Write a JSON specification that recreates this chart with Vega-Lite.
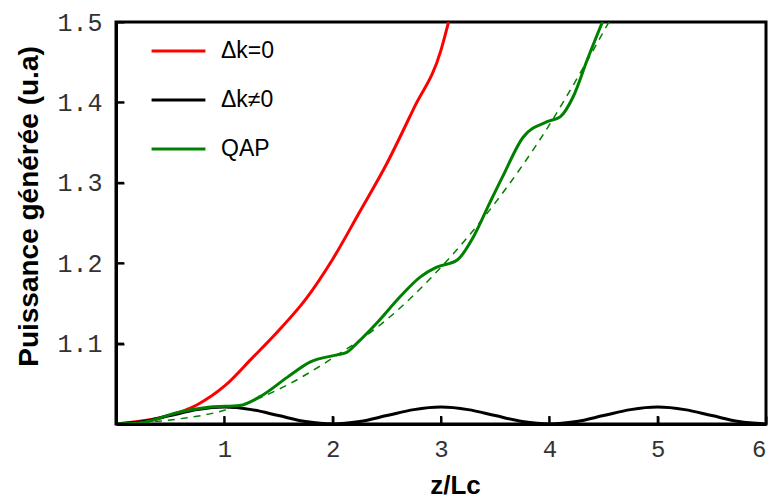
{
  "$schema": "https://vega.github.io/schema/vega-lite/v6.json",
  "autosize": "none",
  "width": 650,
  "height": 402,
  "padding": {"left": 116, "top": 22, "right": 5, "bottom": 74},
  "background": "white",
  "config": {
    "view": {"stroke": "black", "strokeWidth": 3},
    "axis": {"grid": false, "domainColor": "black", "domainWidth": 3, "tickColor": "black", "tickWidth": 2, "labelColor": "#333"}
  },
  "datasets": {
    "curves": [
      {"series": "Δk=0", "z": 0, "P": 1.0},
      {"series": "Δk=0", "z": 0.25, "P": 1.004},
      {"series": "Δk=0", "z": 0.5, "P": 1.011},
      {"series": "Δk=0", "z": 0.75, "P": 1.024},
      {"series": "Δk=0", "z": 1.0, "P": 1.047},
      {"series": "Δk=0", "z": 1.25, "P": 1.081},
      {"series": "Δk=0", "z": 1.5, "P": 1.116},
      {"series": "Δk=0", "z": 1.75, "P": 1.155},
      {"series": "Δk=0", "z": 2.0, "P": 1.205},
      {"series": "Δk=0", "z": 2.25, "P": 1.264},
      {"series": "Δk=0", "z": 2.5, "P": 1.324},
      {"series": "Δk=0", "z": 2.75, "P": 1.393},
      {"series": "Δk=0", "z": 3.0, "P": 1.465},
      {"series": "Δk=0", "z": 3.07, "P": 1.5},
      {"series": "Δk≠0", "z": 0, "P": 1.0},
      {"series": "Δk≠0", "z": 0.25, "P": 1.0031},
      {"series": "Δk≠0", "z": 0.5, "P": 1.0105},
      {"series": "Δk≠0", "z": 0.75, "P": 1.0179},
      {"series": "Δk≠0", "z": 1.0, "P": 1.021},
      {"series": "Δk≠0", "z": 1.25, "P": 1.0179},
      {"series": "Δk≠0", "z": 1.5, "P": 1.0105},
      {"series": "Δk≠0", "z": 1.75, "P": 1.0031},
      {"series": "Δk≠0", "z": 2.0, "P": 1.0},
      {"series": "Δk≠0", "z": 2.25, "P": 1.0031},
      {"series": "Δk≠0", "z": 2.5, "P": 1.0105},
      {"series": "Δk≠0", "z": 2.75, "P": 1.0179},
      {"series": "Δk≠0", "z": 3.0, "P": 1.021},
      {"series": "Δk≠0", "z": 3.25, "P": 1.0179},
      {"series": "Δk≠0", "z": 3.5, "P": 1.0105},
      {"series": "Δk≠0", "z": 3.75, "P": 1.0031},
      {"series": "Δk≠0", "z": 4.0, "P": 1.0},
      {"series": "Δk≠0", "z": 4.25, "P": 1.0031},
      {"series": "Δk≠0", "z": 4.5, "P": 1.0105},
      {"series": "Δk≠0", "z": 4.75, "P": 1.0179},
      {"series": "Δk≠0", "z": 5.0, "P": 1.021},
      {"series": "Δk≠0", "z": 5.25, "P": 1.0179},
      {"series": "Δk≠0", "z": 5.5, "P": 1.0105},
      {"series": "Δk≠0", "z": 5.75, "P": 1.0031},
      {"series": "Δk≠0", "z": 6.0, "P": 1.0},
      {"series": "QAP", "z": 0, "P": 1.0},
      {"series": "QAP", "z": 0.25, "P": 1.002},
      {"series": "QAP", "z": 0.56, "P": 1.014},
      {"series": "QAP", "z": 0.87, "P": 1.021},
      {"series": "QAP", "z": 1.14, "P": 1.023},
      {"series": "QAP", "z": 1.33, "P": 1.034},
      {"series": "QAP", "z": 1.58, "P": 1.058},
      {"series": "QAP", "z": 1.79, "P": 1.077},
      {"series": "QAP", "z": 2.04, "P": 1.086},
      {"series": "QAP", "z": 2.13, "P": 1.089},
      {"series": "QAP", "z": 2.22, "P": 1.1},
      {"series": "QAP", "z": 2.41, "P": 1.126},
      {"series": "QAP", "z": 2.62, "P": 1.158},
      {"series": "QAP", "z": 2.81, "P": 1.183},
      {"series": "QAP", "z": 2.96, "P": 1.195},
      {"series": "QAP", "z": 3.15, "P": 1.204},
      {"series": "QAP", "z": 3.3, "P": 1.233},
      {"series": "QAP", "z": 3.45, "P": 1.275},
      {"series": "QAP", "z": 3.57, "P": 1.308},
      {"series": "QAP", "z": 3.76, "P": 1.357},
      {"series": "QAP", "z": 3.98, "P": 1.376},
      {"series": "QAP", "z": 4.1, "P": 1.382},
      {"series": "QAP", "z": 4.22, "P": 1.407},
      {"series": "QAP", "z": 4.35, "P": 1.453},
      {"series": "QAP", "z": 4.49, "P": 1.5}
    ],
    "trend": [
      {"z": 0, "P": 1.0},
      {"z": 0.5, "P": 1.005},
      {"z": 1.0, "P": 1.017},
      {"z": 1.5, "P": 1.043},
      {"z": 2.0, "P": 1.082},
      {"z": 2.5, "P": 1.13},
      {"z": 3.0, "P": 1.195},
      {"z": 3.5, "P": 1.275},
      {"z": 4.0, "P": 1.372},
      {"z": 4.3, "P": 1.44},
      {"z": 4.55, "P": 1.5}
    ],
    "xticks": [{"z": 1}, {"z": 2}, {"z": 3}, {"z": 4}, {"z": 5}, {"z": 6}],
    "yticks": [{"P": 1.1}, {"P": 1.2}, {"P": 1.3}, {"P": 1.4}]
  },
  "layer": [
    {
      "data": {"name": "trend"},
      "mark": {"type": "line", "color": "#008000", "strokeWidth": 1.5, "strokeDash": [7, 6], "interpolate": "monotone", "clip": true},
      "encoding": {
        "x": {"field": "z", "type": "quantitative", "scale": {"domain": [0, 6], "nice": false},
          "axis": {"title": "z/Lc", "values": [1, 2, 3, 4, 5, 6], "format": "d", "tickSize": -8, "zindex": 2, "labelPadding": 21, "labelFont": "Liberation Mono", "labelFontSize": 24, "titleFont": "Liberation Sans", "titleFontSize": 26, "titleFontWeight": "bold", "titleColor": "black", "titleX": 339, "titleY": 74, "titleBaseline": "bottom"}},
        "y": {"field": "P", "type": "quantitative", "scale": {"domain": [1, 1.5], "nice": false, "zero": false},
          "axis": {"title": "Puissance générée (u.a)", "values": [1.1, 1.2, 1.3, 1.4, 1.5], "format": ".1f", "tickSize": -8, "zindex": 2, "labelPadding": 22, "labelFont": "Liberation Mono", "labelFontSize": 25, "titleFont": "Liberation Sans", "titleFontSize": 28, "titleFontWeight": "bold", "titleColor": "black", "titleX": -73, "titleY": 184, "titleBaseline": "bottom", "titleAngle": -90}}
      }
    },
    {
      "data": {"name": "curves"},
      "mark": {"type": "line", "strokeWidth": 3, "interpolate": "monotone", "clip": true},
      "encoding": {
        "x": {"field": "z", "type": "quantitative", "scale": {"domain": [0, 6], "nice": false},
          "axis": {"title": "z/Lc", "values": [1, 2, 3, 4, 5, 6], "format": "d", "tickSize": -8, "zindex": 2, "labelPadding": 21, "labelFont": "Liberation Mono", "labelFontSize": 24, "titleFont": "Liberation Sans", "titleFontSize": 26, "titleFontWeight": "bold", "titleColor": "black", "titleX": 339, "titleY": 74, "titleBaseline": "bottom"}},
        "y": {"field": "P", "type": "quantitative", "scale": {"domain": [1, 1.5], "nice": false, "zero": false},
          "axis": {"title": "Puissance générée (u.a)", "values": [1.1, 1.2, 1.3, 1.4, 1.5], "format": ".1f", "tickSize": -8, "zindex": 2, "labelPadding": 22, "labelFont": "Liberation Mono", "labelFontSize": 25, "titleFont": "Liberation Sans", "titleFontSize": 28, "titleFontWeight": "bold", "titleColor": "black", "titleX": -73, "titleY": 184, "titleBaseline": "bottom", "titleAngle": -90}},
        "color": {
          "field": "series", "type": "nominal",
          "scale": {"domain": ["Δk=0", "Δk≠0", "QAP"], "range": ["#ff0000", "#000000", "#008000"]},
          "legend": {"title": null, "orient": "none", "legendX": 34, "legendY": 19, "symbolType": "stroke", "symbolSize": 2900, "symbolStrokeWidth": 3, "clipHeight": 20, "labelFont": "Liberation Sans", "labelFontSize": 23, "labelColor": "black", "rowPadding": 26, "labelOffset": 14}
        }
      }
    },
    {
      "data": {"name": "xticks"},
      "mark": {"type": "tick", "orient": "vertical", "color": "black", "size": 8, "thickness": 2, "yOffset": -4, "opacity": 1},
      "encoding": {
        "x": {"field": "z", "type": "quantitative", "scale": {"domain": [0, 6], "nice": false},
          "axis": {"title": "z/Lc", "values": [1, 2, 3, 4, 5, 6], "format": "d", "tickSize": -8, "zindex": 2, "labelPadding": 21, "labelFont": "Liberation Mono", "labelFontSize": 24, "titleFont": "Liberation Sans", "titleFontSize": 26, "titleFontWeight": "bold", "titleColor": "black", "titleX": 339, "titleY": 74, "titleBaseline": "bottom"}},
        "y": {"datum": 1, "type": "quantitative", "scale": {"domain": [1, 1.5], "nice": false, "zero": false},
          "axis": {"title": "Puissance générée (u.a)", "values": [1.1, 1.2, 1.3, 1.4, 1.5], "format": ".1f", "tickSize": -8, "zindex": 2, "labelPadding": 22, "labelFont": "Liberation Mono", "labelFontSize": 25, "titleFont": "Liberation Sans", "titleFontSize": 28, "titleFontWeight": "bold", "titleColor": "black", "titleX": -73, "titleY": 184, "titleBaseline": "bottom", "titleAngle": -90}}
      }
    },
    {
      "data": {"name": "yticks"},
      "mark": {"type": "tick", "orient": "horizontal", "color": "black", "size": 8, "thickness": 2, "xOffset": 4, "opacity": 1},
      "encoding": {
        "x": {"datum": 0, "type": "quantitative", "scale": {"domain": [0, 6], "nice": false},
          "axis": {"title": "z/Lc", "values": [1, 2, 3, 4, 5, 6], "format": "d", "tickSize": -8, "zindex": 2, "labelPadding": 21, "labelFont": "Liberation Mono", "labelFontSize": 24, "titleFont": "Liberation Sans", "titleFontSize": 26, "titleFontWeight": "bold", "titleColor": "black", "titleX": 339, "titleY": 74, "titleBaseline": "bottom"}},
        "y": {"field": "P", "type": "quantitative", "scale": {"domain": [1, 1.5], "nice": false, "zero": false},
          "axis": {"title": "Puissance générée (u.a)", "values": [1.1, 1.2, 1.3, 1.4, 1.5], "format": ".1f", "tickSize": -8, "zindex": 2, "labelPadding": 22, "labelFont": "Liberation Mono", "labelFontSize": 25, "titleFont": "Liberation Sans", "titleFontSize": 28, "titleFontWeight": "bold", "titleColor": "black", "titleX": -73, "titleY": 184, "titleBaseline": "bottom", "titleAngle": -90}}
      }
    }
  ]
}
